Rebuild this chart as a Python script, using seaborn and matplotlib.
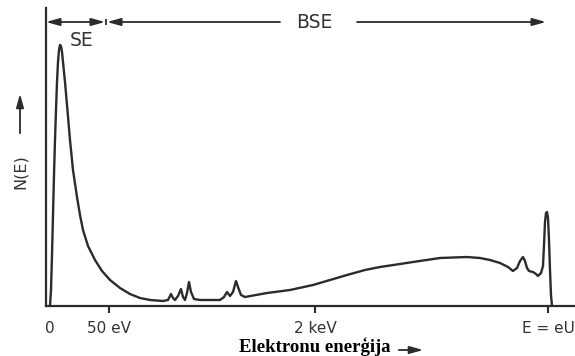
import matplotlib
matplotlib.use("Agg")
import matplotlib.pyplot as plt
import seaborn as sns
import pandas as pd

# Position along the (broken) energy axis, arbitrary units
energy_pos = [4, 5, 6, 7, 8, 9, 10, 11, 12, 13, 14, 15, 16, 17, 19, 21, 24, 27, 31, 34,
              37, 42, 49, 56, 64, 74, 84, 94, 104, 117, 122, 125, 127, 129, 132, 135,
              137, 139, 141, 143, 145, 148, 154, 174, 178, 181, 184, 187, 190, 192,
              195, 199, 221, 244, 267, 284, 301, 319, 334, 354, 367, 394, 421, 434,
              444, 454, 462, 467, 471, 474, 477, 479, 481, 483, 487, 490, 492, 495,
              497, 498, 499, 500, 501, 502, 503, 504, 505, 506]
# Electron yield N(E), arbitrary units
n_e = [0, 16, 51, 91, 131, 166, 196, 224, 244, 256, 261, 260, 254, 244, 224, 201, 166,
       136, 109, 91, 76, 60, 46, 35, 26, 18, 12, 8, 6, 5, 6, 12, 8, 6, 10, 17, 9, 6,
       13, 24, 14, 7, 6, 6, 9, 14, 10, 14, 25, 19, 11, 9, 13, 16, 21, 26, 31, 36, 39,
       42, 44, 48, 49, 48, 46, 43, 39, 35, 38, 45, 49, 45, 38, 35, 34, 32, 30, 33, 40,
       61, 84, 93, 94, 88, 66, 36, 11, 0]

tick_pos = [4, 63, 269, 502]
tick_labels = ["0", "50 eV", "2 keV", "E = eU"]
se_limit = 59          # end of the secondary-electron range
axis_end = 529

ink = "#2b2b2b"

sns.set_style("white")
plt.rcParams["font.family"] = ["DejaVu Sans"]

fig = plt.figure(figsize=(5.75, 3.56), dpi=100)
ax = fig.add_axes([46 / 575, 50 / 356, 529 / 575, 298 / 356])

df = pd.DataFrame({"E": energy_pos, "N": n_e})
sns.lineplot(data=df, x="E", y="N", ax=ax, color=ink, linewidth=1.7,
             sort=False, estimator=None)

ax.set_xlim(0, axis_end)
ax.set_ylim(0, 298)
ax.set_xlabel("")
ax.set_ylabel("")
ax.set_yticks([])

for side in ("top", "right"):
    ax.spines[side].set_visible(False)
for side in ("left", "bottom"):
    ax.spines[side].set_color(ink)
    ax.spines[side].set_linewidth(1.6)

ax.set_xticks(tick_pos)
ax.set_xticklabels(tick_labels, fontsize=11, color="#333333")
ax.tick_params(axis="x", direction="out", length=5, width=1.5, color=ink, pad=6,
               bottom=True)
ax.xaxis.get_major_ticks()[0].tick1line.set_visible(False)
# upward part of the 2 keV mark
ax.set_xticks([tick_pos[2]], minor=True)
ax.tick_params(axis="x", which="minor", direction="in", length=12, width=1.5,
               color=ink, bottom=True)

# SE / BSE range brackets along the top
y_top = 284
arrow_kw = dict(color=ink, lw=1.3, shrinkA=0, shrinkB=0,
                mutation_scale=9)
ax.annotate("", xy=(0, y_top), xytext=(se_limit, y_top),
            arrowprops=dict(arrowstyle="<|-|>,head_length=0.9,head_width=0.25", **arrow_kw),
            annotation_clip=False)
ax.vlines(se_limit + 1, y_top - 3, y_top + 3, color=ink, lw=1.3, clip_on=False)
ax.annotate("", xy=(se_limit + 2, y_top), xytext=(234, y_top),
            arrowprops=dict(arrowstyle="-|>,head_length=0.9,head_width=0.25", **arrow_kw),
            annotation_clip=False)
ax.annotate("", xy=(500, y_top), xytext=(311, y_top),
            arrowprops=dict(arrowstyle="-|>,head_length=0.9,head_width=0.25", **arrow_kw),
            annotation_clip=False)
ax.text(268, y_top, "BSE", fontsize=13.5, color="#333333", ha="center",
        va="center")
ax.text(24, 265, "SE", fontsize=13.5, color="#333333", ha="left", va="center")

# y-axis label with arrow
fig.text(20 / 575, 1 - 172 / 356, "N(E)", rotation=90, fontsize=11.5,
         color="#333333", ha="center", va="center")
fig.add_artist(matplotlib.patches.FancyArrowPatch(
    (20 / 575, 1 - 136 / 356), (20 / 575, 1 - 91 / 356),
    transform=fig.transFigure, arrowstyle="-|>,head_length=0.9,head_width=0.25",
    mutation_scale=9, color=ink, lw=1.3))

# x-axis title with arrow
fig.text(315 / 575, 1 - 347 / 356, "Elektronu enerģija", fontsize=13.5,
         fontweight="bold", family=["Liberation Serif"], ha="center",
         va="center", color="black")
fig.add_artist(matplotlib.patches.FancyArrowPatch(
    (396 / 575, 1 - 350 / 356), (426 / 575, 1 - 350 / 356),
    transform=fig.transFigure, arrowstyle="-|>,head_length=0.9,head_width=0.25",
    mutation_scale=9, color=ink, lw=1.3))

fig.savefig("out.png", dpi=100)
